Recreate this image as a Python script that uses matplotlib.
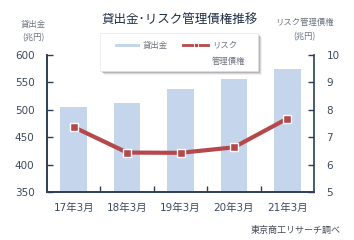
import matplotlib
matplotlib.use("Agg")
import matplotlib.pyplot as plt
from matplotlib.patches import Rectangle
from matplotlib.lines import Line2D

plt.rcParams['font.family'] = ['Noto Sans CJK JP', 'DejaVu Sans']

categories = ["17年3月", "18年3月", "19年3月", "20年3月", "21年3月"]
loans = [505, 512, 538, 556, 574]          # 貸出金 (兆円)
risk_debt = [7.37, 6.44, 6.43, 6.63, 7.68]  # リスク管理債権 (兆円)
left_ticks = [350, 400, 450, 500, 550, 600]
right_ticks = [5, 6, 7, 8, 9, 10]

W, H = 354, 240
fig = plt.figure(figsize=(W / 100, H / 100), dpi=100)
fig.patch.set_facecolor('white')

def fx(px):
    return px / W

def fy(py):
    return 1 - py / H

ax = fig.add_axes([fx(47), fy(192), fx(314) - fx(47), fy(55) - fy(192)])
ax2 = ax.twinx()

text_col = '#3b4a5e'
spine_col = '#2d3e55'
bar_col = '#c5d5ec'
line_col = '#b5484a'
num_font = ['DejaVu Sans', 'Noto Sans CJK JP']

x = list(range(len(categories)))
ax.bar(x, loans, width=0.5, color=bar_col, zorder=1)
ax.set_ylim(350, 600)
ax.set_xlim(-0.5, len(categories) - 0.5)
ax.set_yticks(left_ticks)
ax.set_yticklabels([str(t) for t in left_ticks], family=num_font)
ax.set_xticks(x)
ax.set_xticklabels(categories, family=num_font)
ax.set_xticks([i + 0.5 for i in x[:-1]], minor=True)
ax.tick_params(axis='x', which='major', length=0, pad=8, labelsize=7.5, colors=text_col)
ax.tick_params(axis='x', which='minor', direction='in', length=4, color=spine_col, width=1)
ax.tick_params(axis='y', direction='in', length=4, color=spine_col, width=1,
               labelsize=7.5, labelcolor=text_col, pad=9)

ax2.plot(x, risk_debt, color=line_col, lw=3, marker='s', markersize=6,
         markerfacecolor=line_col, markeredgecolor='white', markeredgewidth=1, zorder=3)
ax2.set_ylim(5, 10)
ax2.set_yticks(right_ticks)
ax2.set_yticklabels([str(t) for t in right_ticks], family=num_font)
ax2.tick_params(axis='y', direction='in', length=4, color=spine_col, width=1,
                labelsize=7.5, labelcolor=text_col, pad=9)

for a in (ax, ax2):
    a.spines['top'].set_visible(False)
    for s in ('left', 'right', 'bottom'):
        a.spines[s].set_color(spine_col)
        a.spines[s].set_linewidth(1.2)
    a.set_facecolor('none')
ax.spines['right'].set_visible(False)

# Title
fig.text(fx(180), fy(20), "貸出金･リスク管理債権推移", ha='center', va='center',
         fontsize=9, color='#1f2d44')

# Axis unit labels
small_col = '#6b7480'
fig.text(fx(33), fy(24), "貸出金", ha='center', va='center', fontsize=6, color=small_col)
fig.text(fx(33), fy(38), "(兆円)", ha='center', va='center', fontsize=6, color=small_col)
fig.text(fx(304), fy(22), "リスク管理債権", ha='center', va='center', fontsize=6, color=small_col)
fig.text(fx(304), fy(37), "(兆円)", ha='center', va='center', fontsize=6, color=small_col)

# Legend box with shadow
lx0, ly0, lx1, ly1 = 100, 33, 258, 71
for off, al in [(4, 0.06), (3, 0.10), (2, 0.16), (1, 0.2)]:
    fig.patches.append(Rectangle((fx(lx0 + off), fy(ly1 + off)), fx(lx1 - lx0), fy(ly0) - fy(ly1),
                                 transform=fig.transFigure, facecolor='black', alpha=al,
                                 edgecolor='none', zorder=5))
fig.patches.append(Rectangle((fx(lx0), fy(ly1)), fx(lx1 - lx0), fy(ly0) - fy(ly1),
                             transform=fig.transFigure, facecolor='white',
                             edgecolor='#e4e6ea', lw=0.5, zorder=6))
fig.patches.append(Rectangle((fx(115), fy(46.5)), fx(25), fy(44) - fy(46.5),
                             transform=fig.transFigure, facecolor=bar_col, edgecolor='none', zorder=7))
fig.text(fx(143), fy(45), "貸出金", ha='left', va='center', fontsize=6, color=small_col, zorder=7)
fig.lines.append(Line2D([fx(183), fx(208)], [fy(45), fy(45)], transform=fig.transFigure,
                        color=line_col, lw=2, zorder=7))
fig.lines.append(Line2D([fx(195.5)], [fy(45)], transform=fig.transFigure, color=line_col,
                        marker='s', markersize=3.5, markeredgecolor='white',
                        markeredgewidth=0.6, zorder=8, lw=0))
fig.text(fx(212), fy(45), "リスク", ha='left', va='center', fontsize=6, color=small_col, zorder=7)
fig.text(fx(212), fy(61), "管理債権", ha='left', va='center', fontsize=6, color=small_col, zorder=7)

# Source
fig.text(fx(341), fy(230), "東京商工リサーチ調べ", ha='right', va='center', fontsize=6.5,
         color='#444b55')

fig.savefig("out.png", dpi=100, facecolor='white')
